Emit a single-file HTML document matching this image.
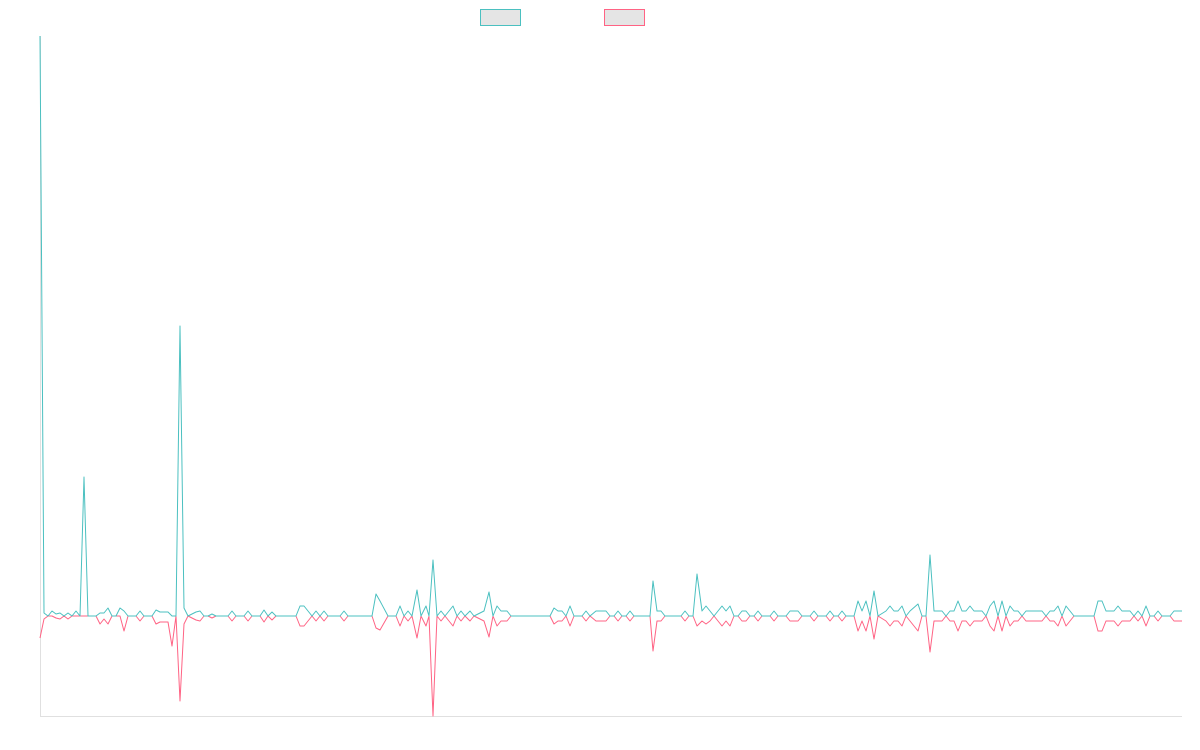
<!DOCTYPE html>
<html><head><meta charset="utf-8"><style>
html,body{margin:0;padding:0;background:#fff;}
svg{display:block;}
</style></head><body>
<svg id="c" width="1200" height="750" xmlns="http://www.w3.org/2000/svg">
<rect x="480.5" y="9.5" width="40" height="16" fill="#e5e5e5" stroke="#4bc0c0" stroke-width="1"/>
<rect x="604.5" y="9.5" width="40" height="16" fill="#e5e5e5" stroke="#ff6384" stroke-width="1"/>
<line x1="40.5" y1="36" x2="40.5" y2="716" stroke="#e0e0e0"/>
<line x1="40" y1="716.5" x2="1182" y2="716.5" stroke="#e0e0e0"/>
<polyline id="p" fill="none" stroke="#ff6384" stroke-width="1" stroke-linejoin="round"/>
<polyline id="t" fill="none" stroke="#4bc0c0" stroke-width="1" stroke-linejoin="round"/>
</svg>
<script>
var d=[[40,580,22],[44,3,3],[48,0,0],[52,5,0],[56,2,2],[60,3,3],[64,0,0],[68,3,3],[72,0,0],[76,5,0],[80,0,0],[84,139,0],[88,0,0],[96,0,0],[100,3,8],[104,3,3],[108,8,8],[112,0,0],[116,0,0],[120,8,0],[124,5,15],[128,0,0],[136,0,0],[140,5,5],[144,0,0],[152,0,0],[156,6,8],[160,4,6],[168,4,6],[172,0,30],[176,0,0],[180,290,85],[184,8,8],[188,0,0],[196,4,4],[200,5,5],[204,0,0],[208,0,0],[212,2,2],[216,0,0],[228,0,0],[232,5,5],[236,0,0],[244,0,0],[248,5,5],[252,0,0],[260,0,0],[264,6,6],[268,0,0],[272,4,4],[276,0,0],[296,0,0],[300,10,10],[304,10,10],[312,0,0],[316,5,5],[320,0,0],[324,5,5],[328,0,0],[340,0,0],[344,5,5],[348,0,0],[372,0,0],[376,22,12],[380,15,14],[388,0,0],[396,0,0],[400,10,10],[404,0,0],[408,5,5],[412,0,0],[417,26,22],[421,0,0],[426,10,10],[429,0,0],[433,56,100],[437,0,0],[441,5,5],[445,0,0],[453,10,10],[457,0,0],[461,5,5],[465,0,0],[470,5,5],[474,0,0],[484,5,5],[489,24,21],[493,0,0],[497,10,10],[501,5,5],[507,5,5],[511,0,0],[550,0,0],[554,8,8],[558,5,5],[562,5,5],[566,0,0],[570,10,10],[574,0,0],[582,0,0],[586,5,5],[590,0,0],[596,5,5],[606,5,5],[610,0,0],[614,0,0],[618,5,5],[622,0,0],[626,0,0],[630,5,5],[634,0,0],[650,0,0],[653,35,35],[657,5,5],[661,5,5],[665,0,0],[681,0,0],[685,5,5],[689,0,0],[693,0,0],[697,42,10],[702,5,5],[706,10,8],[710,5,5],[714,0,0],[718,5,5],[722,10,10],[726,5,5],[730,10,10],[734,0,0],[738,0,0],[742,5,5],[746,5,5],[750,0,0],[754,0,0],[758,5,5],[762,0,0],[770,0,0],[774,5,5],[778,0,0],[786,0,0],[790,5,5],[798,5,5],[802,0,0],[810,0,0],[814,5,5],[818,0,0],[826,0,0],[830,5,5],[834,0,0],[838,0,0],[842,5,5],[846,0,0],[854,0,0],[858,15,15],[862,5,5],[866,15,15],[870,0,0],[874,25,23],[878,0,0],[886,5,5],[890,10,10],[894,5,5],[898,5,5],[902,10,10],[906,0,0],[910,5,5],[918,12,15],[922,0,0],[926,0,0],[930,61,36],[934,5,5],[942,5,5],[946,0,0],[950,5,5],[954,5,5],[958,15,15],[962,5,5],[966,5,5],[970,10,10],[974,5,5],[978,5,5],[982,5,5],[986,0,0],[990,10,10],[994,15,15],[998,0,0],[1002,15,15],[1006,0,0],[1010,10,10],[1014,5,5],[1018,5,5],[1022,0,0],[1026,5,5],[1034,5,5],[1038,5,5],[1042,5,5],[1046,0,0],[1050,5,5],[1054,5,5],[1058,10,10],[1062,0,0],[1066,10,10],[1070,5,5],[1074,0,0],[1094,0,0],[1098,15,15],[1102,15,15],[1106,5,5],[1110,5,5],[1114,5,5],[1118,10,10],[1122,5,5],[1126,5,5],[1130,5,5],[1134,0,0],[1138,5,5],[1142,0,0],[1146,10,10],[1150,0,0],[1154,0,0],[1158,5,5],[1162,0,0],[1170,0,0],[1174,5,5],[1182,5,5]];
var B=616,t=[],p=[];
d.forEach(function(e){t.push(e[0]+','+(B-e[1]));p.push(e[0]+','+(B+e[2]));});
document.getElementById('t').setAttribute('points',t.join(' '));
document.getElementById('p').setAttribute('points',p.join(' '));
</script>
</body></html>
